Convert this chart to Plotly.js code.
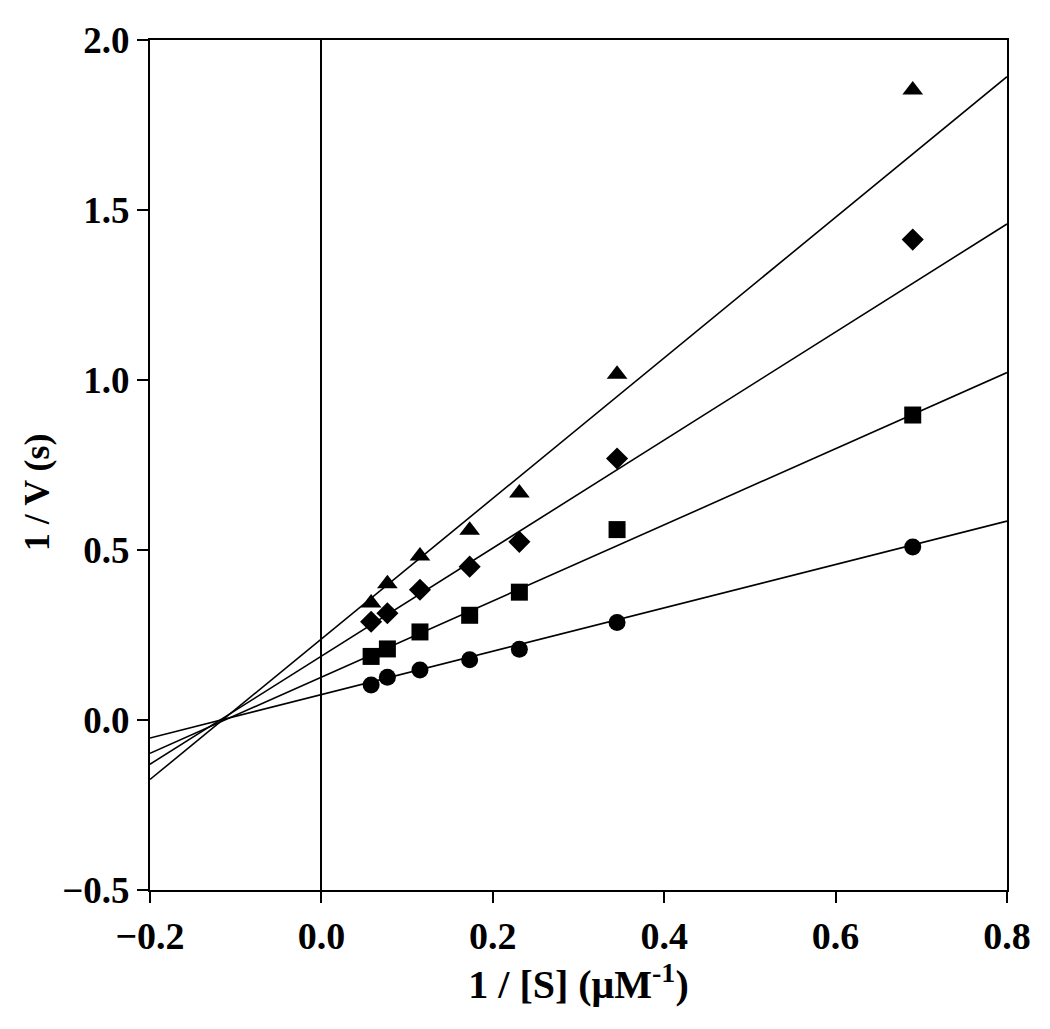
<!DOCTYPE html>
<html>
<head>
<meta charset="utf-8">
<script src="https://cdn.plot.ly/plotly-3.0.1.min.js"></script>
<style>
  body { margin: 0; background: #fff; }
  #plot { width: 1050px; height: 1029px; }
</style>
</head>
<body>
<div id="plot"></div>
<script>
// 1/[S] values (uM^-1)
var invS = [0.058, 0.077, 0.115, 0.173, 0.231, 0.345, 0.690];

// 1/V values (s) for each inhibitor level
var circleY   = [0.103, 0.126, 0.147, 0.177, 0.208, 0.287, 0.509];
var squareY   = [0.187, 0.209, 0.259, 0.308, 0.376, 0.560, 0.897];
var diamondY  = [0.289, 0.314, 0.383, 0.451, 0.524, 0.769, 1.413];
var triangleY = [0.344, 0.401, 0.482, 0.558, 0.668, 1.017, 1.853];

// fitted lines, read at the ends of the x range
var fitX = [-0.2, 0.8];
var circleFit   = [-0.053, 0.585];
var squareFit   = [-0.098, 1.022];
var diamondFit  = [-0.130, 1.459];
var triangleFit = [-0.175, 1.892];

var font = 'Liberation Serif, Times New Roman, serif';

function pts(y, sym, size) {
    return {
        x: invS, y: y, type: 'scatter', mode: 'markers',
        marker: { symbol: sym, size: size, color: '#000' },
        showlegend: false
    };
}
function fit(y) {
    return {
        x: fitX, y: y, type: 'scatter', mode: 'lines',
        line: { color: '#000', width: 1.6 },
        showlegend: false
    };
}

var traces = [
    fit(circleFit), fit(squareFit), fit(diamondFit), fit(triangleFit),
    pts(circleY, 'circle', 17),
    pts(squareY, 'square', 17),
    pts(diamondY, 'diamond', 17),
    pts(triangleY, 'triangle-up', 18)
];

var layout = {
    width: 1050, height: 1029,
    margin: { l: 150, r: 43, t: 40, b: 139 },
    paper_bgcolor: '#fff', plot_bgcolor: '#fff',
    font: { family: font, color: '#000' },
    xaxis: {
        range: [-0.2, 0.8],
        dtick: 0.2, tick0: -0.2,
        tickformat: '.1f',
        showgrid: false,
        zeroline: true, zerolinecolor: '#000', zerolinewidth: 1.5,
        showline: true, mirror: true, linecolor: '#000', linewidth: 2,
        ticks: 'outside', ticklen: 11, tickwidth: 2, tickcolor: '#000',
        tickfont: { family: font, size: 38, weight: 'bold' },
        title: { text: '<b>1 / [S] (μM<sup>-1</sup>)</b>', font: { family: font, size: 40 }, standoff: 8 }
    },
    yaxis: {
        range: [-0.5, 2.0],
        dtick: 0.5,
        tickformat: '.1f',
        showgrid: false,
        zeroline: false,
        showline: true, mirror: true, linecolor: '#000', linewidth: 2,
        ticks: 'outside', ticklen: 11, tickwidth: 2, tickcolor: '#000',
        tickfont: { family: font, size: 37, weight: 'bold' }
    },
    annotations: [{
        text: '<b>1 / V (s)</b>',
        xref: 'paper', yref: 'paper',
        x: 0, y: 0.468, xshift: -113,
        xanchor: 'center', yanchor: 'middle',
        textangle: -90, showarrow: false,
        font: { family: font, size: 36 }
    }]
};

Plotly.newPlot('plot', traces, layout, { displayModeBar: false });
</script>
</body>
</html>
